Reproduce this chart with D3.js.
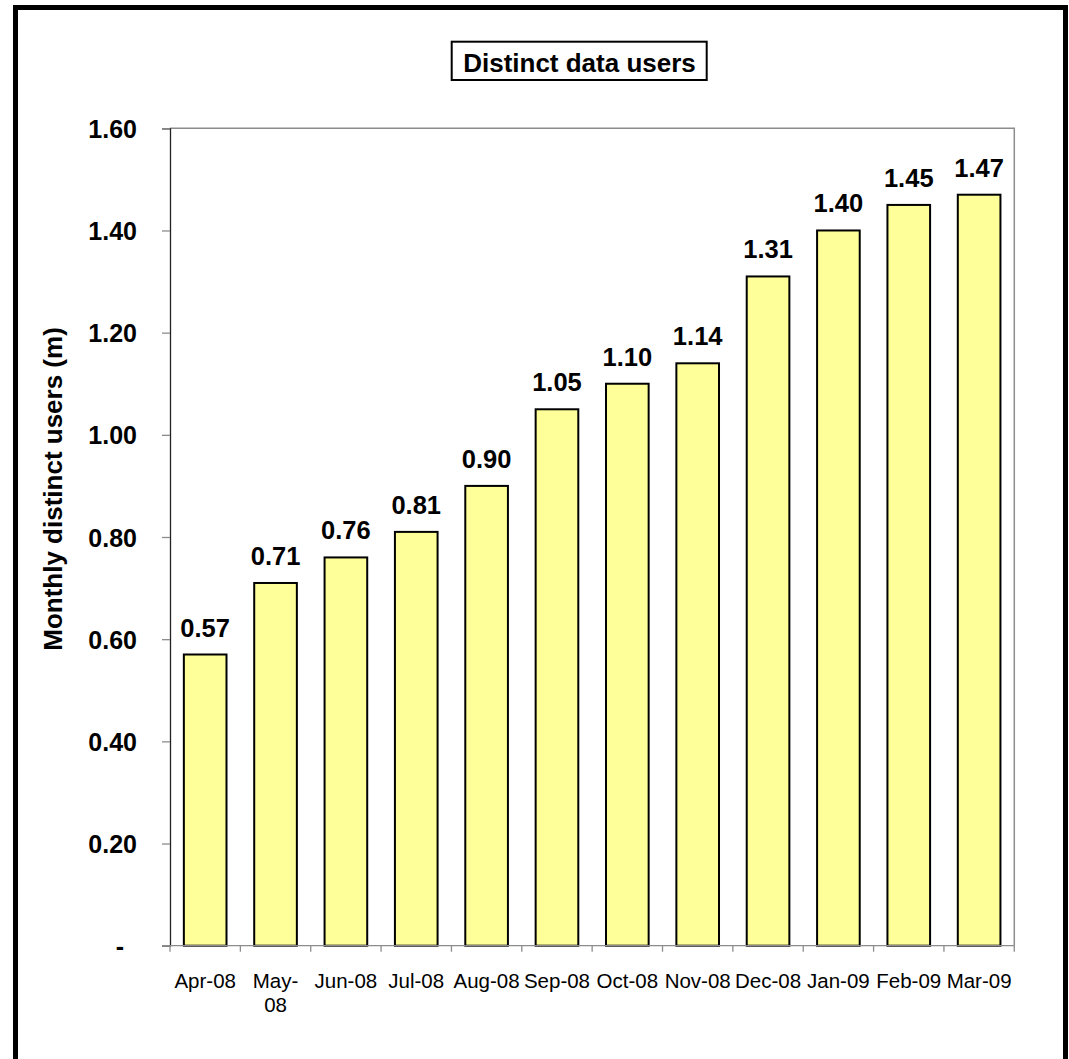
<!DOCTYPE html>
<html>
<head>
<meta charset="utf-8">
<script src="https://cdn.jsdelivr.net/npm/d3@7"></script>
<style>
  html, body { margin: 0; padding: 0; background: #fff; }
  svg { display: block; font-family: "Liberation Sans", Arial, sans-serif; }
</style>
</head>
<body>
<svg id="chart" width="1069" height="1059"></svg>
<script>
// Monthly distinct data users, in millions
const months = ["Apr-08", "May-08", "Jun-08", "Jul-08", "Aug-08", "Sep-08",
                "Oct-08", "Nov-08", "Dec-08", "Jan-09", "Feb-09", "Mar-09"];
const monthLabels = [["Apr-08"], ["May-", "08"], ["Jun-08"], ["Jul-08"], ["Aug-08"], ["Sep-08"],
                     ["Oct-08"], ["Nov-08"], ["Dec-08"], ["Jan-09"], ["Feb-09"], ["Mar-09"]];
const users = [0.57, 0.71, 0.76, 0.81, 0.90, 1.05, 1.10, 1.14, 1.31, 1.40, 1.45, 1.47];
const yTicks = [0, 0.2, 0.4, 0.6, 0.8, 1.0, 1.2, 1.4, 1.6];

const chartTitle = "Distinct data users";
const yTitle = "Monthly distinct users (m)";

const svg = d3.select("#chart");

// outer frame (runs past the bottom edge)
svg.append("rect")
  .attr("x", 15.5).attr("y", 7.5)
  .attr("width", 1050).attr("height", 1070)
  .attr("fill", "none").attr("stroke", "#000").attr("stroke-width", 5);

const plot = { left: 170, right: 1014.3, top: 128.3, bottom: 945.7 };

const gapRatio = 1 - 1 / 1.65; // Excel-style 65% gap width
const x = d3.scaleBand()
  .domain(months)
  .range([plot.left, plot.right])
  .paddingInner(gapRatio)
  .paddingOuter(gapRatio / 2);
const step = x.step();

const y = d3.scaleLinear().domain([0, 1.6]).range([plot.bottom, plot.top]);

// plot area frame (top and right)
svg.append("path")
  .attr("d", `M${plot.left},${plot.top}H${plot.right}V${plot.bottom}`)
  .attr("fill", "none").attr("stroke", "#8c8c8c").attr("stroke-width", 1.5);

// bars
svg.append("g").selectAll("rect")
  .data(users)
  .join("rect")
  .attr("x", (d, i) => x(months[i]))
  .attr("y", d => y(d))
  .attr("width", x.bandwidth())
  .attr("height", d => y(0) - y(d))
  .attr("fill", "#ffff99")
  .attr("stroke", "#000")
  .attr("stroke-width", 2);

// y axis
const yAxis = d3.axisLeft(y)
  .tickValues(yTicks)
  .tickSize(8)
  .tickPadding(25)
  .tickFormat(d => d === 0 ? "-" : d3.format(".2f")(d));
const gy = svg.append("g")
  .attr("transform", `translate(${plot.left},0)`)
  .call(yAxis);
gy.select(".domain").attr("stroke", "#222").attr("stroke-width", 1.3);
gy.selectAll(".tick line").attr("stroke", "#8c8c8c").attr("stroke-width", 1.3);
gy.selectAll(".tick text")
  .attr("font-size", 25).attr("font-weight", "bold").attr("fill", "#000")
  .attr("font-family", "Liberation Sans, Arial, sans-serif")
  .attr("dx", d => d === 0 ? -13 : 0)
  .attr("dy", "0.36em");

// x axis: baseline with ticks at category boundaries
const gx = svg.append("g");
gx.append("line")
  .attr("x1", plot.left).attr("x2", plot.right)
  .attr("y1", plot.bottom).attr("y2", plot.bottom)
  .attr("stroke", "#8c8c8c").attr("stroke-width", 1.3);
gx.selectAll("line.tk")
  .data(d3.range(months.length + 1))
  .join("line")
  .attr("class", "tk")
  .attr("x1", i => plot.left + i * step).attr("x2", i => plot.left + i * step)
  .attr("y1", plot.bottom).attr("y2", plot.bottom + 6)
  .attr("stroke", "#8c8c8c").attr("stroke-width", 1.3);

const xl = gx.selectAll("text.xl")
  .data(months)
  .join("text")
  .attr("class", "xl")
  .attr("x", d => x(d) + x.bandwidth() / 2)
  .attr("y", 988)
  .attr("text-anchor", "middle")
  .attr("font-size", 20.5)
  .attr("fill", "#000");
xl.each(function (d, i) {
  d3.select(this).selectAll("tspan")
    .data(monthLabels[i])
    .join("tspan")
    .attr("x", x(d) + x.bandwidth() / 2)
    .attr("dy", (t, j) => j === 0 ? 0 : 23.5)
    .text(t => t);
});

// value labels
svg.append("g").selectAll("text")
  .data(users)
  .join("text")
  .attr("x", (d, i) => x(months[i]) + x.bandwidth() / 2)
  .attr("y", d => y(d) - 18)
  .attr("text-anchor", "middle")
  .attr("font-size", 25.5)
  .attr("font-weight", "bold")
  .text(d => d3.format(".2f")(d));

// title in a box
svg.append("rect")
  .attr("x", 451.7).attr("y", 41.7)
  .attr("width", 255).attr("height", 38.3)
  .attr("fill", "#fff").attr("stroke", "#000").attr("stroke-width", 2);
svg.append("text")
  .attr("x", 579.5).attr("y", 71.5)
  .attr("text-anchor", "middle")
  .attr("font-size", 26).attr("font-weight", "bold")
  .text(chartTitle);

// y axis title
svg.append("text")
  .attr("transform", `translate(62,489) rotate(-90)`)
  .attr("text-anchor", "middle")
  .attr("font-size", 26).attr("font-weight", "bold")
  .text(yTitle);
</script>
</body>
</html>
